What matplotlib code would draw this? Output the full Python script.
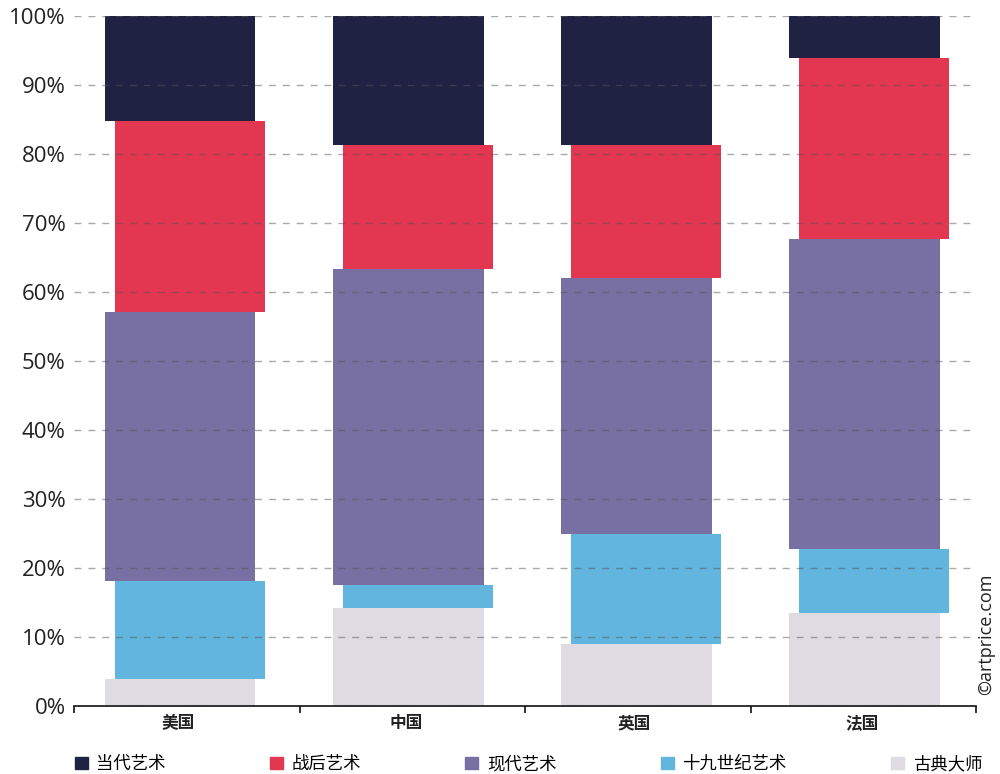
import numpy as np
import matplotlib.pyplot as plt
from matplotlib.patches import Patch

plt.rcParams['font.family'] = ['Open Sans', 'Noto Sans CJK SC', 'DejaVu Sans']

pays = ["美国", "中国", "英国", "法国"]
series = ["古典大师", "十九世纪艺术", "现代艺术", "战后艺术", "当代艺术"]
couleurs = ["#dedce2", "#62b5de", "#7870a2", "#e33650", "#1f2243"]

# parts en % (bas -> haut)
classique = [3.9, 14.2, 9.0, 13.5]
xixe = [14.2, 3.3, 15.9, 9.3]
moderne = [39.0, 45.8, 37.1, 44.9]
apres_guerre = [27.7, 18.1, 19.4, 26.2]
contemporain = [15.2, 18.6, 18.6, 6.1]

valeurs = [classique, xixe, moderne, apres_guerre, contemporain]

fig = plt.figure(figsize=(10, 7.74), dpi=100)
ax = fig.add_axes([0.074, 0.088, 0.902, 0.891])

x = np.arange(len(pays))
largeur = 0.66
decalage = 0.021
bas = np.zeros(len(pays))
for i, (vals, c) in enumerate(zip(valeurs, couleurs)):
    dx = -decalage if i % 2 == 0 else decalage
    ax.bar(x + dx, vals, largeur, bottom=bas, color=c, zorder=1)
    bas += np.array(vals)

xmin, xmax = -0.487, 3.469
ax.set_xlim(xmin, xmax)
ax.set_ylim(0, 100)
ax.set_yticks(np.arange(0, 101, 10))
ax.set_yticklabels(["{}%".format(v) for v in range(0, 101, 10)], fontsize=16, color="#222222")
ax.yaxis.grid(True, linestyle=(0, (5, 5)), color="#555555", alpha=0.5, linewidth=1, zorder=3)
ax.set_axisbelow(False)
ax.tick_params(axis="y", length=0, pad=6)

ax.set_xticks(np.linspace(xmin, xmax, 5))
ax.set_xticklabels([])
ax.set_xticks(x - 0.03, minor=True)
ax.set_xticklabels(pays, minor=True, fontsize=12, fontweight="bold", color="#222222")
ax.tick_params(axis="x", which="major", length=5, width=1.2, color="#111111")
ax.tick_params(axis="x", which="minor", length=0, pad=6)

for s in ["top", "right", "left"]:
    ax.spines[s].set_visible(False)
ax.spines["bottom"].set_linewidth(1.2)
ax.spines["bottom"].set_color("#111111")

fig.text(0.986, 0.18, "©artprice.com", rotation=90, ha="center", va="center",
         fontsize=13, color="#222222")

poignees = [Patch(color=c) for c in couleurs[::-1]]
fig.legend(poignees, series[::-1], loc="center left", bbox_to_anchor=(0.059, 0.012),
           ncol=5, frameon=False, fontsize=12.5, handlelength=0.75, handleheight=0.75,
           handletextpad=0.5, columnspacing=6.0)

fig.savefig("out.png", dpi=100)
